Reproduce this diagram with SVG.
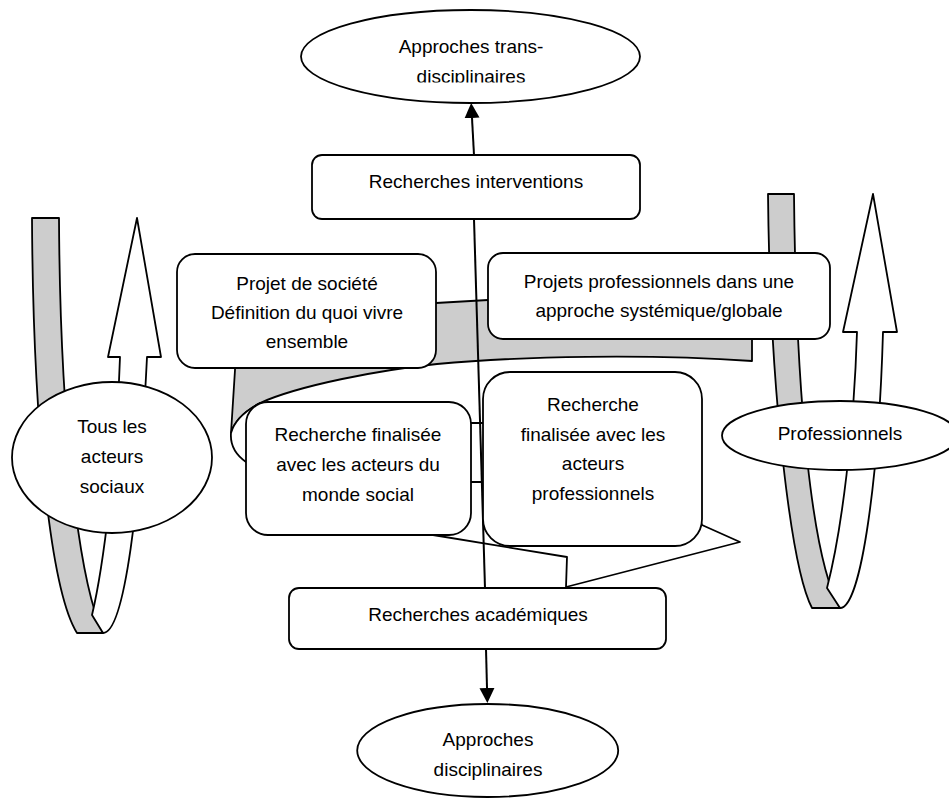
<svg xmlns="http://www.w3.org/2000/svg" width="949" height="799" viewBox="0 0 949 799">
<style>
  .shape{fill:#ffffff;stroke:#000000;stroke-width:1.8;stroke-linejoin:round}
  .back{fill:#cdcdcd;stroke:#000000;stroke-width:1.8;stroke-linejoin:round}
  .ln{fill:none;stroke:#000000;stroke-width:2}
  text{font-family:"Liberation Sans",Arial,sans-serif;font-size:19px;fill:#000000;text-anchor:middle}
</style>
<defs>
  <marker id="arr" markerUnits="userSpaceOnUse" markerWidth="16" markerHeight="16" refX="0" refY="7.5" orient="auto">
    <path d="M0,0 L15,7.5 L0,15 Z" fill="#000000"/>
  </marker>
  <clipPath id="clipTop"><rect x="0" y="0" width="949" height="82.5"/></clipPath>
</defs>

<g id="cycle-left">
  <path class="back" d="M32,218 L59,218 C60,420 78,580 103,633 L77,633 C50,590 33,420 32,218 Z"/>
  <path class="shape" d="M120,357 L108,357 L137,218 L161,357 L147,357 C140,500 125,633 103,633 L92,615 C105,560 117,450 120,357 Z"/>
</g>
<g id="cycle-right">
  <path class="back" d="M768,194 L794,194 C796,400 812,560 840,608 L812,608 C792,570 770,400 768,194 Z"/>
  <path class="shape" d="M857,332 L843,332 L873,194 L897,332 L883,332 C879,470 862,608 840,608 L827,588 C842,530 854,430 857,332 Z"/>
</g>

<g id="ribbon-back">
  <path class="back" d="M236,300 L436,303 L488,300 L752,290 L752,361 C650,354 520,356 437,364 C380,370 300,385 260,403 C245,411 234,422 231,433 L235,370 Z"/>
</g>
<g id="ribbon-front">
  <path class="shape" d="M231,433 C230,445 236,455 246,462 L433,535 L567,557 L566,587 L740,542 L702,525 L680,480 L600,400 L483,423 L471,423 L290,405 L260,403 C245,411 234,422 231,433 Z"/>
  <path class="ln" d="M471,482 L483,482"/>
</g>

<g id="connectors">
  <path class="ln" d="M474,219 L485,588"/>
  <path class="ln" d="M474,155 L472,118" marker-end="url(#arr)"/>
  <path class="ln" d="M486,649 L487,688" marker-end="url(#arr)"/>
</g>

<g id="n-trans">
  <ellipse class="shape" cx="470.5" cy="56.5" rx="169.5" ry="46.5"/>
  <text x="471" y="53">Approches trans-</text>
  <text x="471" y="83" clip-path="url(#clipTop)">disciplinaires</text>
</g>
<g id="n-interventions">
  <rect class="shape" x="312" y="155" width="328" height="64" rx="10"/>
  <text x="476" y="188">Recherches interventions</text>
</g>
<g id="n-projet-societe">
  <rect class="shape" x="177" y="254" width="259" height="114" rx="18"/>
  <text x="307" y="290">Projet de société</text>
  <text x="307" y="319">Définition du quoi vivre</text>
  <text x="307" y="348">ensemble</text>
</g>
<g id="n-projets-pro">
  <rect class="shape" x="488" y="253" width="342" height="86" rx="15"/>
  <text x="659" y="288">Projets professionnels dans une</text>
  <text x="659" y="317">approche systémique/globale</text>
</g>
<g id="n-social">
  <rect class="shape" x="246" y="402" width="225" height="133" rx="22"/>
  <text x="358" y="441">Recherche finalisée</text>
  <text x="358" y="471">avec les acteurs du</text>
  <text x="358" y="501">monde social</text>
</g>
<g id="n-pro">
  <rect class="shape" x="483" y="372" width="219" height="174" rx="27"/>
  <text x="593" y="411">Recherche</text>
  <text x="593" y="441">finalisée avec les</text>
  <text x="593" y="470">acteurs</text>
  <text x="593" y="500">professionnels</text>
</g>
<g id="n-tous">
  <ellipse class="shape" cx="112" cy="457.5" rx="100" ry="75.5"/>
  <text x="112" y="433">Tous les</text>
  <text x="112" y="463">acteurs</text>
  <text x="112" y="493">sociaux</text>
</g>
<g id="n-professionnels">
  <ellipse class="shape" cx="840" cy="435.5" rx="118" ry="34.5"/>
  <text x="840" y="440">Professionnels</text>
</g>
<g id="n-academiques">
  <rect class="shape" x="289" y="588" width="377" height="61" rx="10"/>
  <text x="478" y="621">Recherches académiques</text>
</g>
<g id="n-disciplinaires">
  <ellipse class="shape" cx="487.7" cy="750.5" rx="130.5" ry="46.5"/>
  <text x="488" y="746">Approches</text>
  <text x="488" y="776">disciplinaires</text>
</g>
</svg>
